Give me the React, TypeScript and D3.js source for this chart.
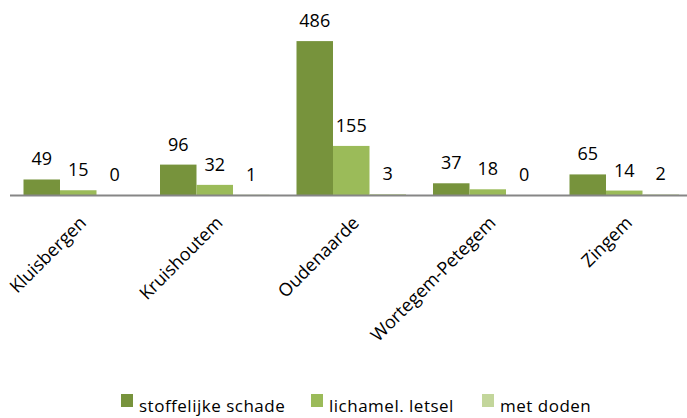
import React, { useEffect } from "react";
import { scaleBand, scaleLinear, scaleOrdinal } from "d3";

const gemeenten = ["Kluisbergen", "Kruishoutem", "Oudenaarde", "Wortegem-Petegem", "Zingem"];
const reeksen = ["stoffelijke schade", "lichamel. letsel", "met doden"];
const stoffelijk = [49, 96, 486, 37, 65];
const letsel = [15, 32, 155, 18, 14];
const doden = [0, 1, 3, 0, 2];
const kleuren = ["#77933C", "#9BBB59", "#C3D69B"];

const width = 687;
const height = 418;
const font = "'Open Sans', sans-serif";

export default function App() {
  useEffect(() => {
    document.body.style.margin = "0";
  }, []);

  const values = [stoffelijk, letsel, doden];

  const x0 = scaleBand<string>().domain(gemeenten).range([10, 692.5]);
  const x1 = scaleBand<string>().domain(reeksen).range([13.5, 123]);
  const y = scaleLinear().domain([0, 600]).range([195, 5]);
  const color = scaleOrdinal<string, string>().domain(reeksen).range(kleuren);

  const legendX = [121, 311, 482];

  return (
    <svg width={width} height={height} style={{ display: "block", fontFamily: font }}>
      {gemeenten.map((g, i) => (
        <g key={g} transform={`translate(${x0(g)},0)`}>
          {reeksen.map((r, j) => {
            const v = values[j][i];
            const bx = x1(r)!;
            const bw = x1.bandwidth();
            return (
              <g key={r}>
                <rect x={bx} y={y(v)} width={bw} height={y(0) - y(v)} fill={color(r)} />
                <text
                  x={bx + bw / 2}
                  y={y(v) - 14}
                  textAnchor="middle"
                  fontSize={18}
                  fill="#000"
                >
                  {v}
                </text>
              </g>
            );
          })}
          <text
            transform={`translate(${x0.bandwidth() / 2 + 9},224) rotate(-45)`}
            textAnchor="end"
            fontSize={18}
            fill="#000"
          >
            {g}
          </text>
        </g>
      ))}
      <line x1={10} x2={687} y1={y(0) + 0.5} y2={y(0) + 0.5} stroke="#868686" strokeWidth={2} />
      {reeksen.map((r, j) => (
        <g key={r} transform={`translate(${legendX[j]},394)`}>
          <rect width={12} height={13} fill={color(r)} />
          <text x={18} y={18} fontSize={17} letterSpacing={0.5} fill="#000">
            {r}
          </text>
        </g>
      ))}
    </svg>
  );
}
